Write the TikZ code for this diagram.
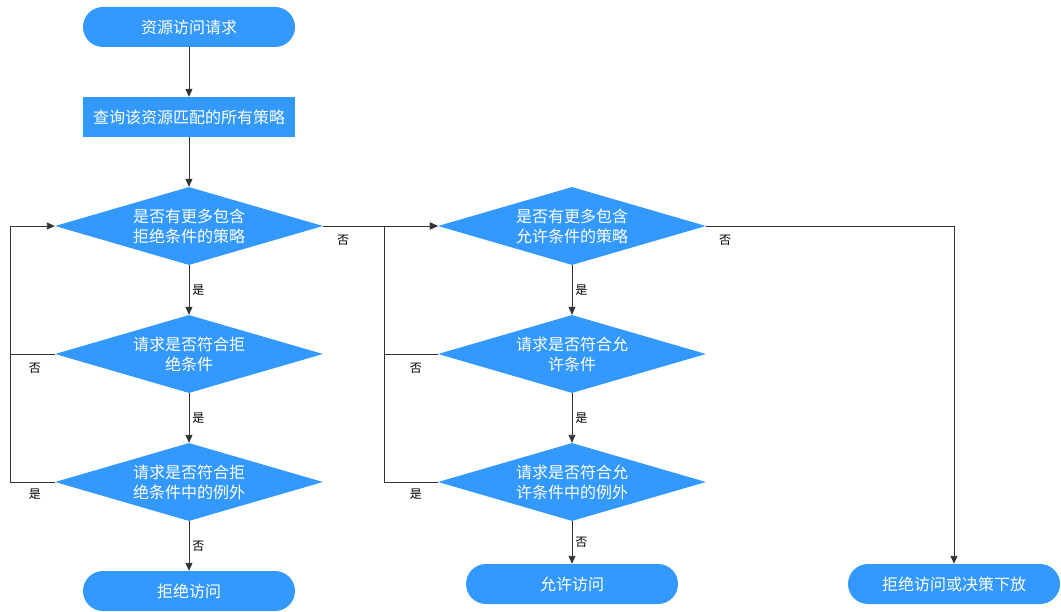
\documentclass[tikz,border=0pt]{standalone}
\usepackage{fontspec}
\newfontfamily\cjk{Noto Sans CJK SC}
\usetikzlibrary{shapes.geometric,arrows.meta,calc}
\definecolor{nodeblue}{RGB}{51,153,255}
\definecolor{linegray}{RGB}{51,51,51}
\begin{document}
\begin{tikzpicture}[x=1pt,y=-1pt,
  base/.style={fill=nodeblue,text=white,font=\cjk\fontsize{16}{20}\selectfont,inner sep=0pt,align=center,draw=none},
  term/.style={base,rectangle,rounded corners=20pt,minimum width=212pt,minimum height=40pt},
  proc/.style={base,rectangle,minimum width=212pt,minimum height=40pt},
  dec/.style={base,diamond,shape aspect=3.4,minimum width=268pt,minimum height=78pt},
  conn/.style={draw=linegray,line width=0.9pt,-{Triangle[length=8pt,width=7pt]}},
  plain/.style={draw=linegray,line width=0.9pt},
  lab/.style={font=\cjk\fontsize{12}{14}\selectfont,text=black,inner sep=0pt}]
\useasboundingbox (0,0) rectangle (1061,612);

\node[term] (start) at (189,27) {资源访问请求};
\node[proc] (query) at (189,117) {查询该资源匹配的所有策略};
\node[dec] (d1) at (189,226) {是否有更多包含\\拒绝条件的策略};
\node[dec] (d2) at (189,354) {请求是否符合拒\\绝条件};
\node[dec] (d3) at (189,482) {请求是否符合拒\\绝条件中的例外};
\node[term] (deny) at (189,591) {拒绝访问};
\node[dec] (d4) at (572,226) {是否有更多包含\\允许条件的策略};
\node[dec] (d5) at (572,354) {请求是否符合允\\许条件};
\node[dec] (d6) at (572,482) {请求是否符合允\\许条件中的例外};
\node[term] (allow) at (572,584) {允许访问};
\node[term] (final) at (954,584) {拒绝访问或决策下放};

\coordinate (lx) at (10,0);
\coordinate (rx) at (384,0);

\draw[conn] (start) -- (query);
\draw[conn] (query) -- (d1);
\draw[conn] (d1) -- node[lab,right=3pt] {是} (d2);
\draw[conn] (d2) -- node[lab,right=3pt] {是} (d3);
\draw[conn] (d3) -- node[lab,right=3pt] {否} (deny);
\draw[conn] (d3.west) -- (d3.west -| lx) |- (d1.west);
\draw[plain] (d2.west) -- (d2.west -| lx);

\draw[conn] (d1.east) -- (d4.west);
\draw[conn] (d4) -- node[lab,right=3pt] {是} (d5);
\draw[conn] (d5) -- node[lab,right=3pt] {是} (d6);
\draw[conn] (d6) -- node[lab,right=3pt] {否} (allow);
\draw[conn] (d6.west) -- (d6.west -| rx) |- (d4.west);
\draw[plain] (d5.west) -- (d5.west -| rx);
\draw[conn] (d4.east) -| (final.north);

\node[lab] (l1) at ($(d1.east)+(20,14)$) {否};
\node[lab] (l2) at ($(d2.west)+(-20,14)$) {否};
\node[lab] (l3) at ($(d3.west)+(-20,12)$) {是};
\node[lab] (l4) at ($(d4.east)+(19,14)$) {否};
\node[lab] (l5) at ($(d5.west)+(-22,14)$) {否};
\node[lab] (l6) at ($(d6.west)+(-22,12)$) {是};
\end{tikzpicture}
\end{document}
